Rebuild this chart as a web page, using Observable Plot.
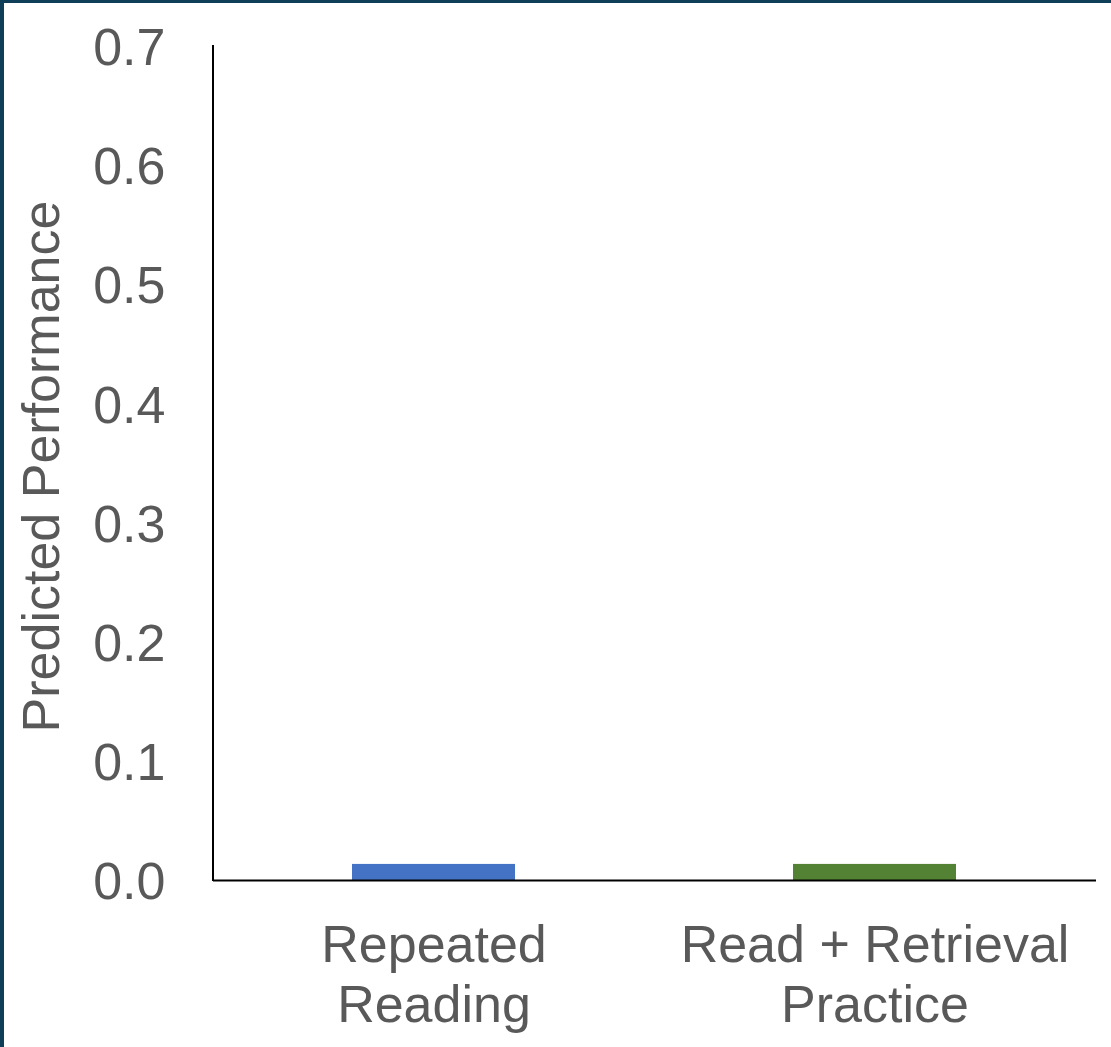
<!DOCTYPE html>
<html>
<head>
<meta charset="utf-8">
<script src="https://cdn.jsdelivr.net/npm/d3@7"></script>
<script src="https://cdn.jsdelivr.net/npm/@observablehq/plot@0.6"></script>
<style>
  html, body { margin: 0; padding: 0; background: #fff; }
  #wrap { position: relative; width: 1111px; height: 1047px; overflow: hidden; }
  #bt { position: absolute; left: 0; top: 0; width: 1111px; height: 3px; background: #0f3f58; }
  #bl { position: absolute; left: 0; top: 0; width: 4px; height: 1047px; background: #0f3f58; }
  svg { font-family: "Liberation Sans", Arial, sans-serif; }
</style>
</head>
<body>
<div id="wrap"><div id="chart"></div><div id="bt"></div><div id="bl"></div></div>
<script>
const categories = ["Repeated Reading", "Read + Retrieval Practice"];
const categoryLabels = ["Repeated\nReading", "Read + Retrieval\nPractice"];
const values = [0.0135, 0.0135];
const colors = ["#4472C4", "#548235"];
const yTicks = [0, 0.1, 0.2, 0.3, 0.4, 0.5, 0.6, 0.7];
const yTitle = "Predicted Performance";

const data = categories.map((c, i) => ({category: c, value: values[i], color: colors[i]}));

const chart = Plot.plot({
  width: 1111,
  height: 1047,
  marginLeft: 213,
  marginRight: 15,
  marginTop: 46,
  marginBottom: 167,
  style: {fontFamily: "Liberation Sans, Arial, sans-serif", background: "transparent"},
  x: {domain: categories, paddingInner: 0.63, paddingOuter: 0.315},
  y: {domain: [0, 0.7]},
  marks: [
    Plot.barY(data, {x: "category", y: "value", fill: "color"}),
    Plot.axisY({ticks: yTicks, tickSize: 0, tickPadding: 48, tickFormat: d3.format(".1f"),
      fontSize: 52, fill: "#595959", label: null, dy: 2}),
    Plot.axisX({tickSize: 0, tickPadding: 39, fontSize: 52, fill: "#595959", label: null,
      lineHeight: 1.15,
      tickFormat: d => categoryLabels[categories.indexOf(d)]}),
    Plot.ruleY([0], {stroke: "#000", strokeWidth: 2}),
    Plot.text([yTitle], {frameAnchor: "left", textAnchor: "middle", rotate: -90, dx: -171, dy: 3,
      fontSize: 52, fill: "#595959"})
  ]
});

// left axis line using the chart's own scales
const xs = chart.scale("x");
const ys = chart.scale("y");
d3.select(chart).append("line")
  .attr("x1", xs.range[0]).attr("x2", xs.range[0])
  .attr("y1", ys.apply(0) + 1).attr("y2", ys.apply(0.7) - 1)
  .attr("stroke", "#000").attr("stroke-width", 2);

document.getElementById("chart").appendChild(chart);
</script>
</body>
</html>
